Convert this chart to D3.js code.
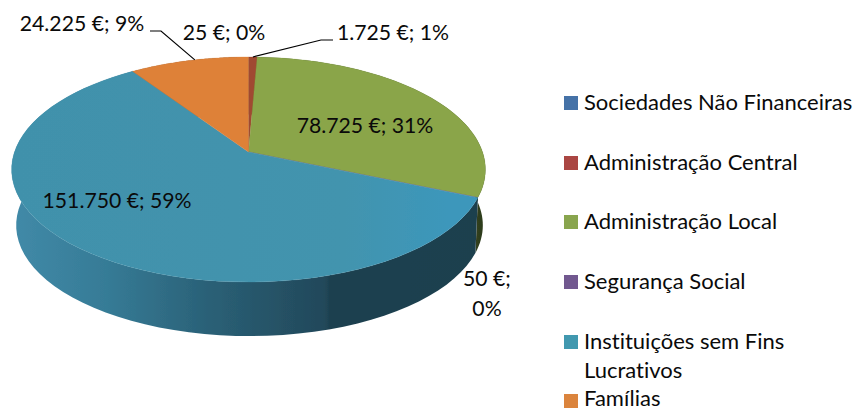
<!DOCTYPE html>
<html><head><meta charset="utf-8">
<script src="https://cdn.jsdelivr.net/npm/d3@7"></script>
<style>html,body{margin:0;padding:0;background:#fff}svg{display:block}text{font-family:Lato,"Open Sans",sans-serif;fill:#0a0a0a;font-variant-ligatures:none}</style>
</head><body><div id="c"></div>
<script>
const categories=["Sociedades Não Financeiras","Administração Central","Administração Local","Segurança Social","Instituições sem Fins Lucrativos","Famílias"];
const values=[25,1725,78725,50,151750,24225];
const valueLabels=["25 €; 0%","1.725 €; 1%","78.725 €; 31%","50 €;|0%","151.750 €; 59%","24.225 €; 9%"];
const legendColors=["#4572a7","#aa4643","#89a54e","#71588f","#4198af","#db843d"];
const topColors=["#4572a7","#a04a30","#8aa549","#71588f","#4294ae","#de8139"];
const labelX=[224,393,365,487,117,82];
const labelY=[40,40,133,286,208,31];
const legendRowY=[110,170,229,289,349,406];
const legendLines=[["Sociedades Não Financeiras"],["Administração Central"],["Administração Local"],["Segurança Social"],["Instituições sem Fins","Lucrativos"],["Famílias"]];

const W=856,H=410;
const svg=d3.select("#c").append("svg").attr("width",W).attr("height",H);
const defs=svg.append("defs");
defs.append("filter").attr("id","soft").attr("x","-5%").attr("y","-5%").attr("width","110%").attr("height","110%")
  .append("feGaussianBlur").attr("stdDeviation",0.6);

// Perspective pie: unit circle projected onto the screen
const apexX=248.5,apexY=152,k=0.1556,a=234,b=109.8;
const project=(ang,r=1,dy=0,s=1,dx=0)=>{
  const u=r*Math.sin(ang),v=-r*Math.cos(ang),w=1-k*v;
  return [apexX+dx+s*a*u/w,apexY+dy+s*b*v/w];
};
const pie=d3.pie().sort(null).value(d=>d);
const arcs=pie(values);
const line=d3.line();
const depth=56,shrink=0.985,wallShift=1;

const wallGrad=(id,stops)=>{
  const g=defs.append("linearGradient").attr("id",id).attr("gradientUnits","userSpaceOnUse")
    .attr("x1",12).attr("x2",486).attr("y1",0).attr("y2",0);
  stops.forEach(s=>g.append("stop").attr("offset",s[0]).attr("stop-color",s[1]));
};
wallGrad("wallBlue",[[0,"#418aa8"],[0.2,"#367b96"],[0.42,"#2a6076"],[0.66,"#22485a"],[0.67,"#1e4150"],[1,"#1c3f4e"]]);
wallGrad("wallGreen",[[0,"#3a4a20"],[0.93,"#3c4d28"],[1,"#2c3a1c"]]);
const topGrad=defs.append("linearGradient").attr("id","topBlue").attr("gradientUnits","userSpaceOnUse")
  .attr("x1",12).attr("x2",486).attr("y1",0).attr("y2",0);
[[0,"#4191ab"],[0.7,"#4394ae"],[0.92,"#3c97bb"],[1,"#3c97bb"]].forEach(s=>topGrad.append("stop").attr("offset",s[0]).attr("stop-color",s[1]));

const pieG=svg.append("g").attr("filter","url(#soft)");
const samples=(d)=>d3.range(0,65).map(i=>d.startAngle+(d.endAngle-d.startAngle)*i/64);
const wallFill=i=>i===2?"url(#wallGreen)":i===4?"url(#wallBlue)":d3.color(topColors[i]).darker(1.2);

pieG.selectAll("path.wall").data(arcs).join("path").attr("class","wall")
  .attr("fill",(d,i)=>wallFill(i))
  .attr("d",d=>{
    const t=samples(d);
    return line(t.map(x=>project(x)).concat(t.slice().reverse().map(x=>project(x,1,depth,shrink,wallShift))))+"Z";
  });
pieG.selectAll("path.top").data(arcs).join("path").attr("class","top")
  .attr("fill",(d,i)=>i===4?"url(#topBlue)":topColors[i])
  .attr("stroke",(d,i)=>i===4?"url(#topBlue)":topColors[i]).attr("stroke-width",0.3)
  .attr("d",d=>line([[apexX,apexY]].concat(samples(d).map(x=>project(x))))+"Z");

// Leader lines
const leaders=[[[150,31],[161,31],project(arcs[5].startAngle+(arcs[5].endAngle-arcs[5].startAngle)*0.55)],
               [[333,40],[321,40],project((arcs[1].startAngle+arcs[1].endAngle)/2)]];
svg.selectAll("path.leader").data(leaders).join("path").attr("class","leader")
  .attr("fill","none").attr("stroke","#000").attr("stroke-width",1.2).attr("d",d=>line(d));

// Data labels
svg.selectAll("text.lab").data(valueLabels).join("text").attr("class","lab")
  .attr("text-anchor","middle").attr("font-size",21.2)
  .each(function(d,i){
    const parts=d.split("|");
    d3.select(this).selectAll("tspan").data(parts).join("tspan")
      .attr("x",labelX[i]).attr("y",(p,j)=>labelY[i]+j*30).text(p=>p);
  });

// Legend
const lg=svg.selectAll("g.leg").data(categories).join("g").attr("class","leg");
lg.append("rect").attr("x",564).attr("width",14).attr("height",14)
  .attr("y",(d,i)=>(i===5?408:legendRowY[i])-14).attr("fill",(d,i)=>legendColors[i]);
lg.append("text").attr("font-size",22)
  .each(function(d,i){
    d3.select(this).selectAll("tspan").data(legendLines[i]).join("tspan")
      .attr("x",584).attr("y",(p,j)=>legendRowY[i]+j*29).text(p=>p);
  });
</script></body></html>
